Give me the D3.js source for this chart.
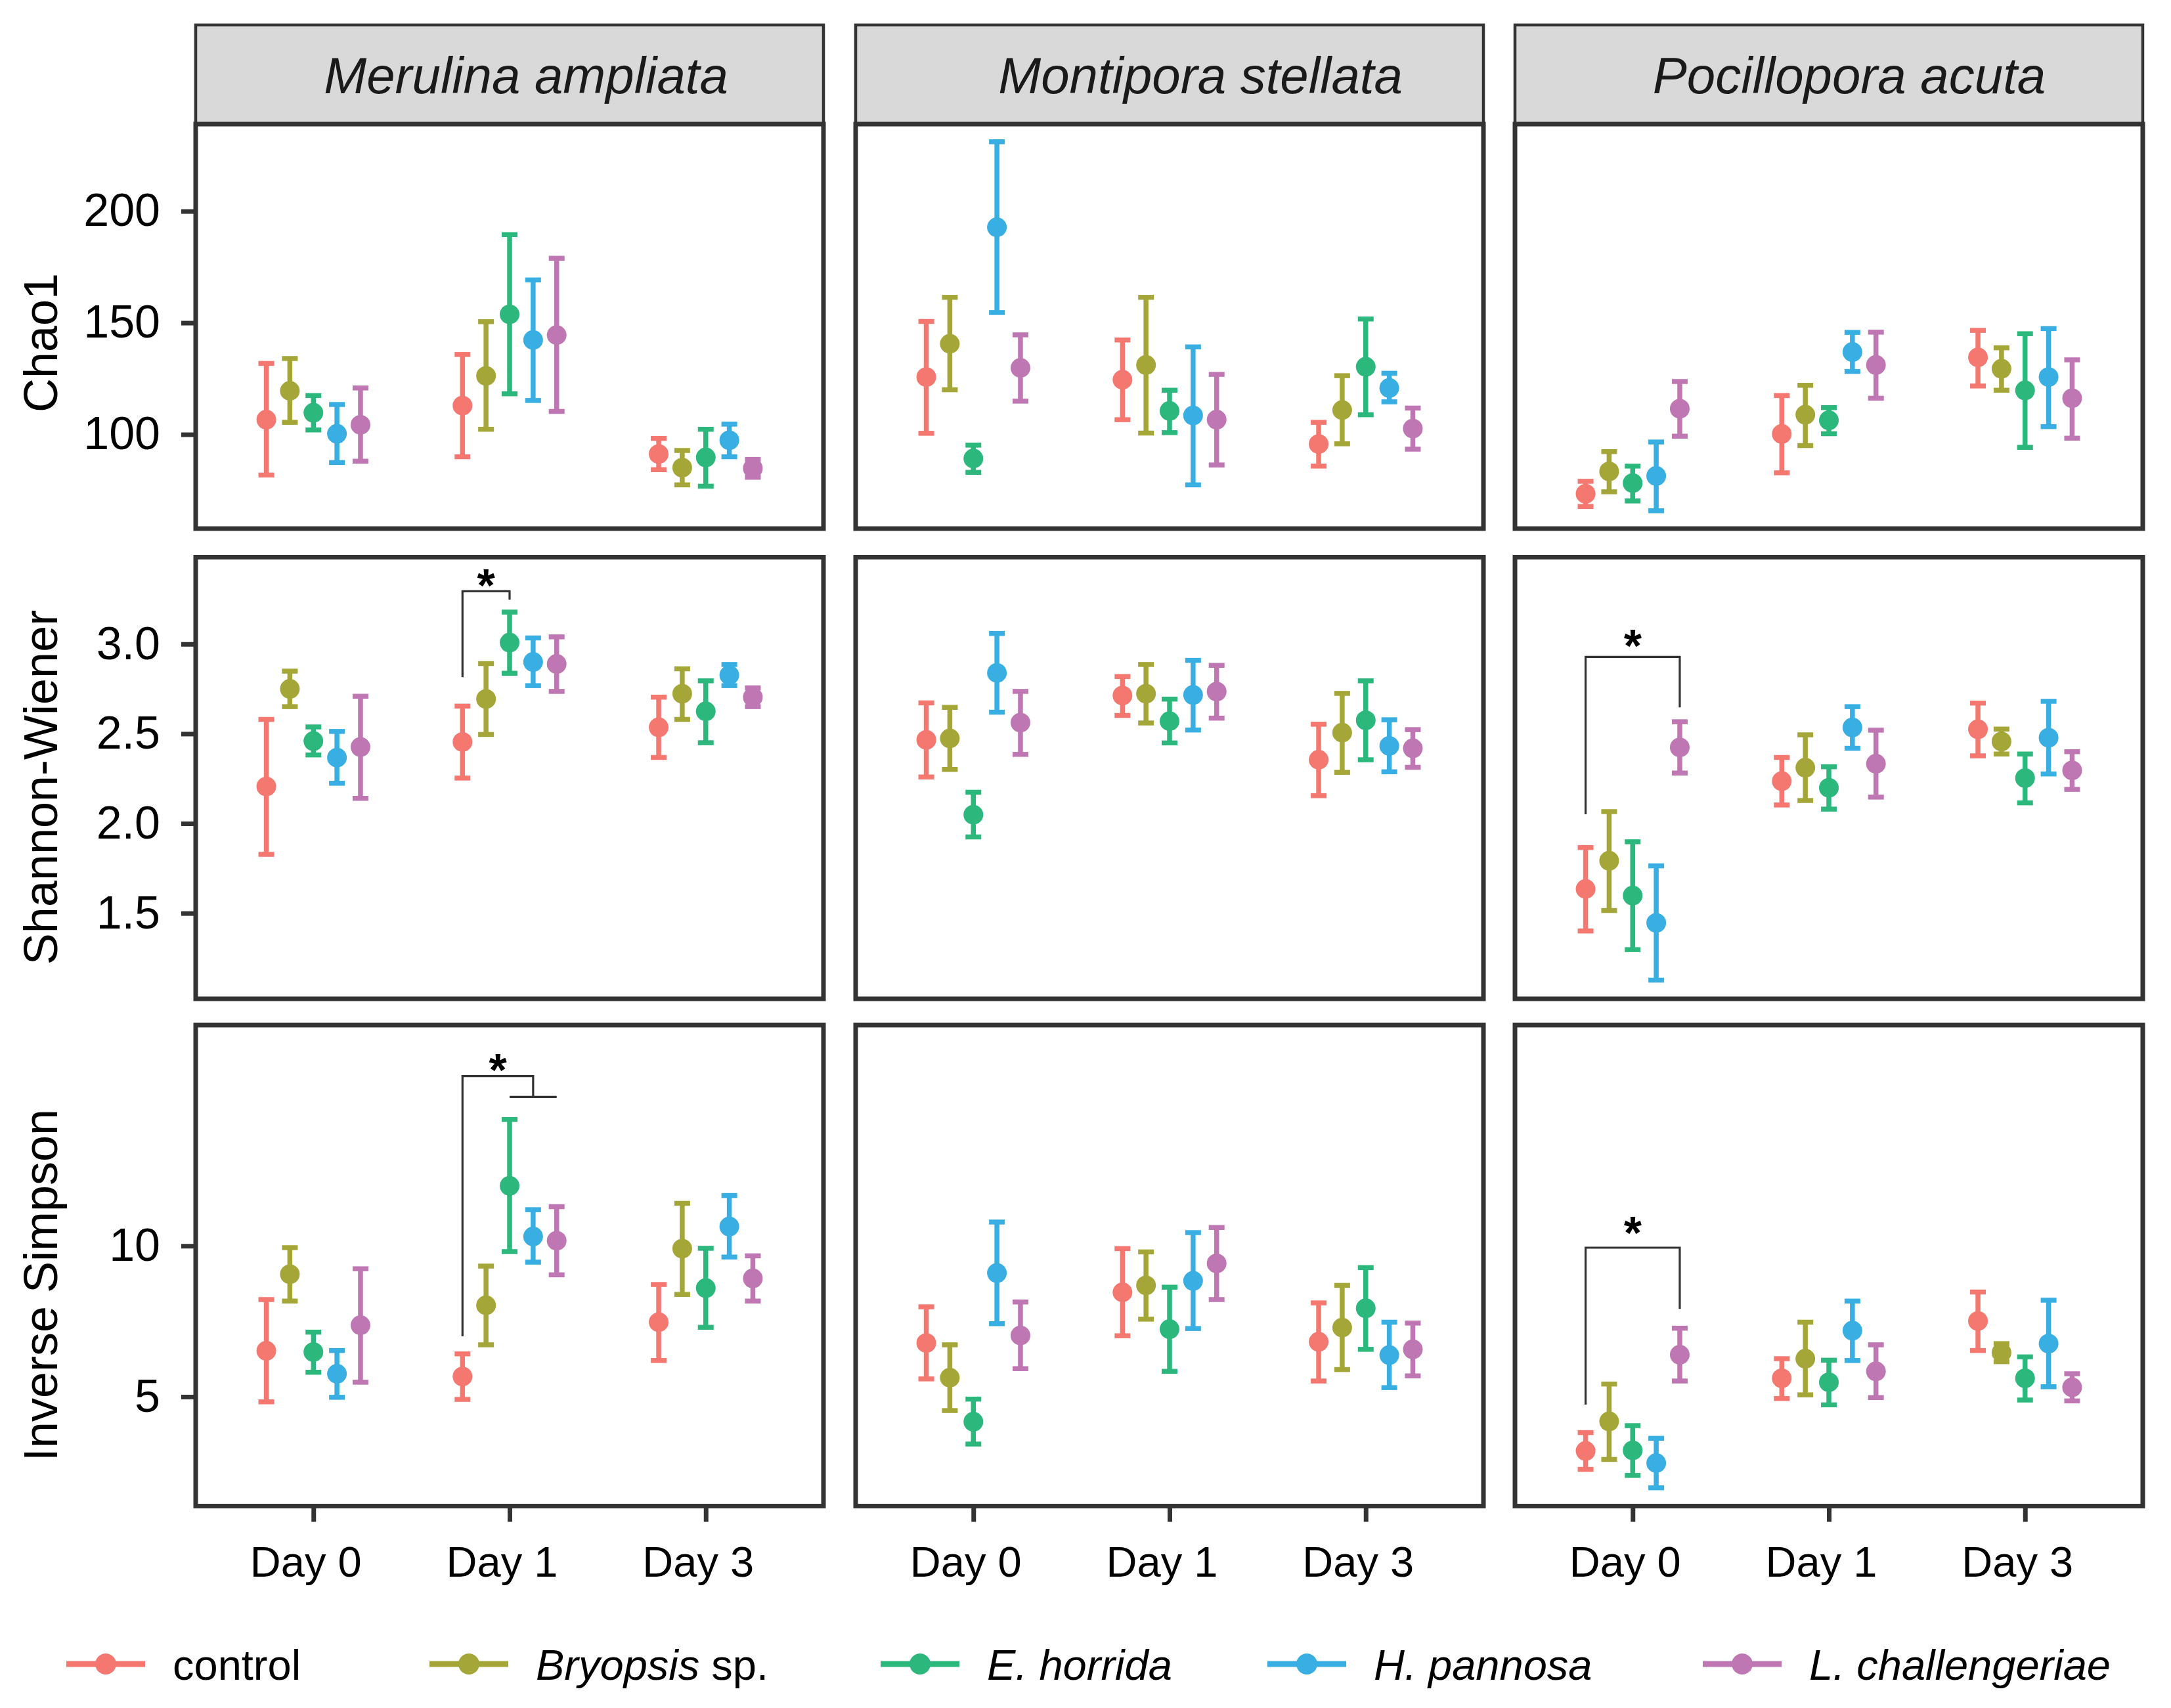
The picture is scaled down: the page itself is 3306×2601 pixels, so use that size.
<!DOCTYPE html>
<html>
<head>
<meta charset="utf-8">
<script src="https://cdn.jsdelivr.net/npm/d3@7"></script>
<style>
body { margin: 0; background: #fff; }
svg { display: block; }
text { font-family: "Liberation Sans", Arial, sans-serif; }
</style>
</head>
<body>
<div id="chart"></div>
<script>
const W = 3306, H = 2601;

// categories
const species = ["Merulina ampliata", "Montipora stellata", "Pocillopora acuta"];
const days = ["Day 0", "Day 1", "Day 3"];
const groups = ["control", "Bryopsis sp.", "E. horrida", "H. pannosa", "L. challengeriae"];
const metrics = ["Chao1", "Shannon-Wiener", "Inverse Simpson"];
const groupColors = ["#F47770", "#A4A737", "#2CB87C", "#38AEE2", "#BE77B3"];

// values: [species][day][group]
const chao1Mean = [
  [[106.6, 119.5, 109.7, 100.3, 104.3], [112.9, 126.2, 153.8, 142.3, 144.5], [91.2, 85.1, 89.7, 97.4, 84.8]],
  [[125.7, 140.6, 89.2, 192.8, 129.8], [124.5, 131.1, 110.5, 108.5, 106.6], [95.7, 110.9, 130.3, 120.8, 102.6]],
  [[73.4, 83.4, 78.2, 81.4, 111.5], [100.2, 108.8, 106.3, 136.9, 131.1], [134.5, 129.4, 119.7, 125.7, 116.2]]
];
const chao1Low = [
  [[81.8, 105.4, 102, 87.4, 88], [90, 102.3, 118.2, 115.2, 110.3], [84.2, 77.4, 76.8, 90, 80.8]],
  [[100.5, 120, 83, 154.6, 114.9], [106.6, 100.6, 100.8, 77.4, 86.3], [85.8, 95.8, 108.8, 114.6, 93.4]],
  [[67.7, 74.3, 70.2, 65.8, 99.2], [82.8, 95, 100.3, 128.2, 116.2], [121.7, 119.8, 94.2, 103.5, 98.3]]
];
const chao1High = [
  [[131.8, 134, 117.4, 113.4, 120.8], [135.8, 150.5, 189.5, 169.2, 178.9], [98.2, 92.8, 102.3, 104.6, 88.8]],
  [[150.6, 161.4, 95.2, 231.1, 144.6], [142.3, 161.4, 119.8, 139.2, 126.9], [105.4, 126.3, 151.7, 127.4, 111.8]],
  [[79, 92.3, 85.8, 96.6, 123.7], [117.4, 122, 112, 145.7, 145.8], [146.6, 138.8, 145.1, 147.4, 133.4]]
];

const shannonMean = [
  [[2.206, 2.75, 2.459, 2.367, 2.426], [2.454, 2.694, 3.008, 2.90, 2.889], [2.536, 2.723, 2.625, 2.827, 2.704]],
  [[2.466, 2.474, 2.049, 2.839, 2.562], [2.713, 2.723, 2.57, 2.716, 2.735], [2.355, 2.506, 2.575, 2.432, 2.419]],
  [[1.635, 1.792, 1.598, 1.446, 2.424], [2.236, 2.311, 2.199, 2.535, 2.333], [2.525, 2.457, 2.253, 2.478, 2.296]]
];
const shannonLow = [
  [[1.828, 2.651, 2.382, 2.224, 2.14], [2.253, 2.496, 2.837, 2.768, 2.736], [2.368, 2.58, 2.45, 2.768, 2.651]],
  [[2.259, 2.301, 1.925, 2.62, 2.385], [2.602, 2.56, 2.449, 2.521, 2.587], [2.155, 2.285, 2.355, 2.288, 2.313]],
  [[1.401, 1.515, 1.297, 1.127, 2.281], [2.103, 2.128, 2.08, 2.419, 2.147], [2.377, 2.387, 2.115, 2.276, 2.19]]
];
const shannonHigh = [
  [[2.58, 2.849, 2.538, 2.513, 2.709], [2.654, 2.891, 3.178, 3.034, 3.04], [2.704, 2.862, 2.795, 2.886, 2.756]],
  [[2.672, 2.647, 2.174, 3.059, 2.736], [2.819, 2.886, 2.693, 2.909, 2.881], [2.553, 2.725, 2.795, 2.578, 2.523]],
  [[1.866, 2.066, 1.898, 1.764, 2.567], [2.368, 2.494, 2.316, 2.651, 2.52], [2.671, 2.526, 2.387, 2.681, 2.40]]
];

const invSimpMean = [
  [[6.52, 9.06, 6.48, 5.76, 7.37], [5.67, 8.03, 11.99, 10.31, 10.17], [7.47, 9.91, 8.6, 10.64, 8.92]],
  [[6.78, 5.63, 4.17, 9.1, 7.03], [8.46, 8.69, 7.24, 8.84, 9.42], [6.82, 7.29, 7.93, 6.38, 6.57]],
  [[3.2, 4.18, 3.22, 2.8, 6.39], [5.61, 6.26, 5.48, 7.19, 5.84], [7.51, 6.46, 5.61, 6.76, 5.31]]
];
const invSimpLow = [
  [[4.83, 8.17, 5.81, 4.98, 5.48], [4.91, 6.72, 9.81, 9.46, 9.04], [6.2, 8.39, 7.3, 9.63, 8.17]],
  [[5.59, 4.54, 3.43, 7.42, 5.93], [7.02, 7.57, 5.84, 7.26, 8.22], [5.52, 5.9, 6.57, 5.3, 5.69]],
  [[2.59, 2.92, 2.39, 1.98, 5.52], [4.94, 5.06, 4.73, 6.2, 4.97], [6.53, 6.16, 4.89, 5.33, 4.86]]
];
const invSimpHigh = [
  [[8.22, 9.94, 7.14, 6.53, 9.24], [6.42, 9.33, 14.19, 11.2, 11.3], [8.72, 11.41, 9.92, 11.67, 9.67]],
  [[7.98, 6.72, 4.92, 10.79, 8.14], [9.91, 9.8, 8.63, 10.44, 10.61], [8.11, 8.69, 9.28, 7.47, 7.44]],
  [[3.81, 5.42, 4.04, 3.62, 7.27], [6.26, 7.47, 6.21, 8.17, 6.72], [8.47, 6.76, 6.32, 8.2, 5.76]]
];

// axis ticks / ranges per metric
const yDomains = [[57.8, 239], [1.023, 3.484], [1.374, 17.32]];
const yTicks = [[100, 150, 200], [1.5, 2.0, 2.5, 3.0], [5, 10]];
const yFormats = [d3.format("d"), d3.format(".1f"), d3.format("d")];

// significance brackets (values in data units)
const brackets = [
  {metric: 1, species: 0, day: "Day 1", from: "control", to: "E. horrida", top: 3.294, fromEnd: 2.815, toEnd: 3.247, star: 3.383},
  {metric: 1, species: 2, day: "Day 0", from: "control", to: "L. challengeriae", top: 2.928, fromEnd: 2.051, toEnd: 2.647, star: 3.047},
  {metric: 2, species: 0, day: "Day 1", from: "control", to: "H. pannosa", top: 15.63, fromEnd: 7.0, toEnd: 14.94, star: 16.17,
   spanFrom: "E. horrida", spanTo: "L. challengeriae"},
  {metric: 2, species: 2, day: "Day 0", from: "control", to: "L. challengeriae", top: 9.94, fromEnd: 4.74, toEnd: 7.91, star: 10.76}
];

// build long table
const tables = [[chao1Mean, chao1Low, chao1High], [shannonMean, shannonLow, shannonHigh], [invSimpMean, invSimpLow, invSimpHigh]];
const rows = [];
tables.forEach((t, m) => {
  species.forEach((sp, s) => {
    days.forEach((dy, d) => {
      groups.forEach((g, k) => {
        rows.push({metric: m, species: s, day: dy, group: g,
          mean: t[0][s][d][k], low: t[1][s][d][k], high: t[2][s][d][k]});
      });
    });
  });
});

// layout
const panelLeft = [298, 1303, 2307];
const panelW = 956;
const rowTop = [189, 848.5, 1561];
const rowBottom = [805, 1521, 2293.5];
const stripTop = 38;
const stripTextShift = [25, 47, 31];
const titleY = [522, 1199, 1957];
const dark = "#333333";

const svg = d3.select("#chart").append("svg")
  .attr("width", W).attr("height", H);
svg.append("rect").attr("width", W).attr("height", H).attr("fill", "#fff");

const color = d3.scaleOrdinal(groups, groupColors);
const xScales = panelLeft.map(x0 => d3.scalePoint(days, [x0, x0 + panelW]).padding(0.6));
const step = xScales[0].step();
const dodge = d3.scalePoint(groups, [-0.24 * step, 0.24 * step]);
const yScales = yDomains.map((dom, m) => d3.scaleLinear(dom, [rowBottom[m], rowTop[m]]));

const capW = 24;

// strips
species.forEach((sp, s) => {
  const g = svg.append("g");
  g.append("rect")
    .attr("x", panelLeft[s]).attr("y", stripTop)
    .attr("width", panelW).attr("height", rowTop[0] - stripTop)
    .attr("fill", "#d9d9d9").attr("stroke", dark).attr("stroke-width", 4.5);
  g.append("text")
    .attr("x", panelLeft[s] + panelW / 2 + stripTextShift[s]).attr("y", (stripTop + rowTop[0]) / 2 + 28)
    .attr("text-anchor", "middle").attr("font-size", 78).attr("font-style", "italic")
    .attr("fill", "#1a1a1a").text(sp);
});

metrics.forEach((metric, m) => {
  const y = yScales[m];

  // y axis (left column only)
  const ax = svg.append("g")
    .attr("transform", `translate(${panelLeft[0]},0)`)
    .call(d3.axisLeft(y).tickValues(yTicks[m]).tickFormat(yFormats[m]).tickSize(22).tickPadding(32));
  ax.select(".domain").remove();
  ax.selectAll(".tick line").attr("stroke", dark).attr("stroke-width", 7);
  ax.selectAll(".tick text").attr("font-size", 70).attr("fill", "#000")
    .attr("font-family", "Liberation Sans, Arial, sans-serif");

  svg.append("text")
    .attr("transform", `translate(87,${titleY[m]}) rotate(-90)`)
    .attr("text-anchor", "middle").attr("font-size", 72).attr("fill", "#000")
    .text(metric);

  species.forEach((sp, s) => {
    const x = xScales[s];
    const g = svg.append("g");
    const data = rows.filter(r => r.metric === m && r.species === s);
    const cx = r => x(r.day) + dodge(r.group);

    const eb = g.selectAll("g.eb").data(data).join("g").attr("class", "eb")
      .attr("stroke", r => color(r.group)).attr("stroke-width", 7.5);
    eb.append("line")
      .attr("x1", cx).attr("x2", cx)
      .attr("y1", r => y(r.low)).attr("y2", r => y(r.high));
    eb.append("line")
      .attr("x1", r => cx(r) - capW / 2).attr("x2", r => cx(r) + capW / 2)
      .attr("y1", r => y(r.low)).attr("y2", r => y(r.low));
    eb.append("line")
      .attr("x1", r => cx(r) - capW / 2).attr("x2", r => cx(r) + capW / 2)
      .attr("y1", r => y(r.high)).attr("y2", r => y(r.high));

    g.selectAll("circle").data(data).join("circle")
      .attr("cx", cx).attr("cy", r => y(r.mean))
      .attr("r", 15).attr("fill", r => color(r.group));

    // brackets
    brackets.filter(b => b.metric === m && b.species === s).forEach(b => {
      const xa = x(b.day) + dodge(b.from);
      const xb = x(b.day) + dodge(b.to);
      const path = d3.path();
      path.moveTo(xa, y(b.fromEnd));
      path.lineTo(xa, y(b.top));
      path.lineTo(xb, y(b.top));
      path.lineTo(xb, y(b.toEnd));
      if (b.spanFrom) {
        path.moveTo(x(b.day) + dodge(b.spanFrom), y(b.toEnd));
        path.lineTo(x(b.day) + dodge(b.spanTo), y(b.toEnd));
      }
      g.append("path").attr("d", path.toString())
        .attr("fill", "none").attr("stroke", dark).attr("stroke-width", 3.2);
      g.append("text")
        .attr("x", (xa + xb) / 2).attr("y", y(b.star) + 40)
        .attr("text-anchor", "middle").attr("font-size", 70).attr("font-weight", "bold")
        .attr("fill", "#000").text("*");
    });

    // panel border
    g.append("rect")
      .attr("x", panelLeft[s]).attr("y", rowTop[m])
      .attr("width", panelW).attr("height", rowBottom[m] - rowTop[m])
      .attr("fill", "none").attr("stroke", dark).attr("stroke-width", 7);

    // x axis on bottom row
    if (m === metrics.length - 1) {
      const xa = svg.append("g")
        .attr("transform", `translate(0,${rowBottom[m]})`)
        .call(d3.axisBottom(x).tickSize(24).tickPadding(37));
      xa.select(".domain").remove();
      xa.selectAll(".tick line").attr("stroke", dark).attr("stroke-width", 7);
      xa.selectAll(".tick text").attr("font-size", 65).attr("fill", "#000")
        .attr("dx", -12)
        .attr("font-family", "Liberation Sans, Arial, sans-serif");
    }
  });
});

// legend
const legendKeyX = [101, 654, 1341, 1930, 2593];
const legendY = 2534;
const legendLabels = [
  [{t: "control", i: false}],
  [{t: "Bryopsis", i: true}, {t: " sp.", i: false}],
  [{t: "E. horrida", i: true}],
  [{t: "H. pannosa", i: true}],
  [{t: "L. challengeriae", i: true}]
];
const lg = svg.append("g");
groups.forEach((grp, k) => {
  const kx = legendKeyX[k];
  lg.append("line")
    .attr("x1", kx).attr("x2", kx + 120).attr("y1", legendY).attr("y2", legendY)
    .attr("stroke", color(grp)).attr("stroke-width", 9);
  lg.append("circle").attr("cx", kx + 60).attr("cy", legendY).attr("r", 16).attr("fill", color(grp));
  const t = lg.append("text").attr("x", kx + 162).attr("y", legendY + 24)
    .attr("font-size", 65).attr("fill", "#000");
  legendLabels[k].forEach(p => {
    t.append("tspan").attr("font-style", p.i ? "italic" : "normal").text(p.t);
  });
});
</script>
</body>
</html>
